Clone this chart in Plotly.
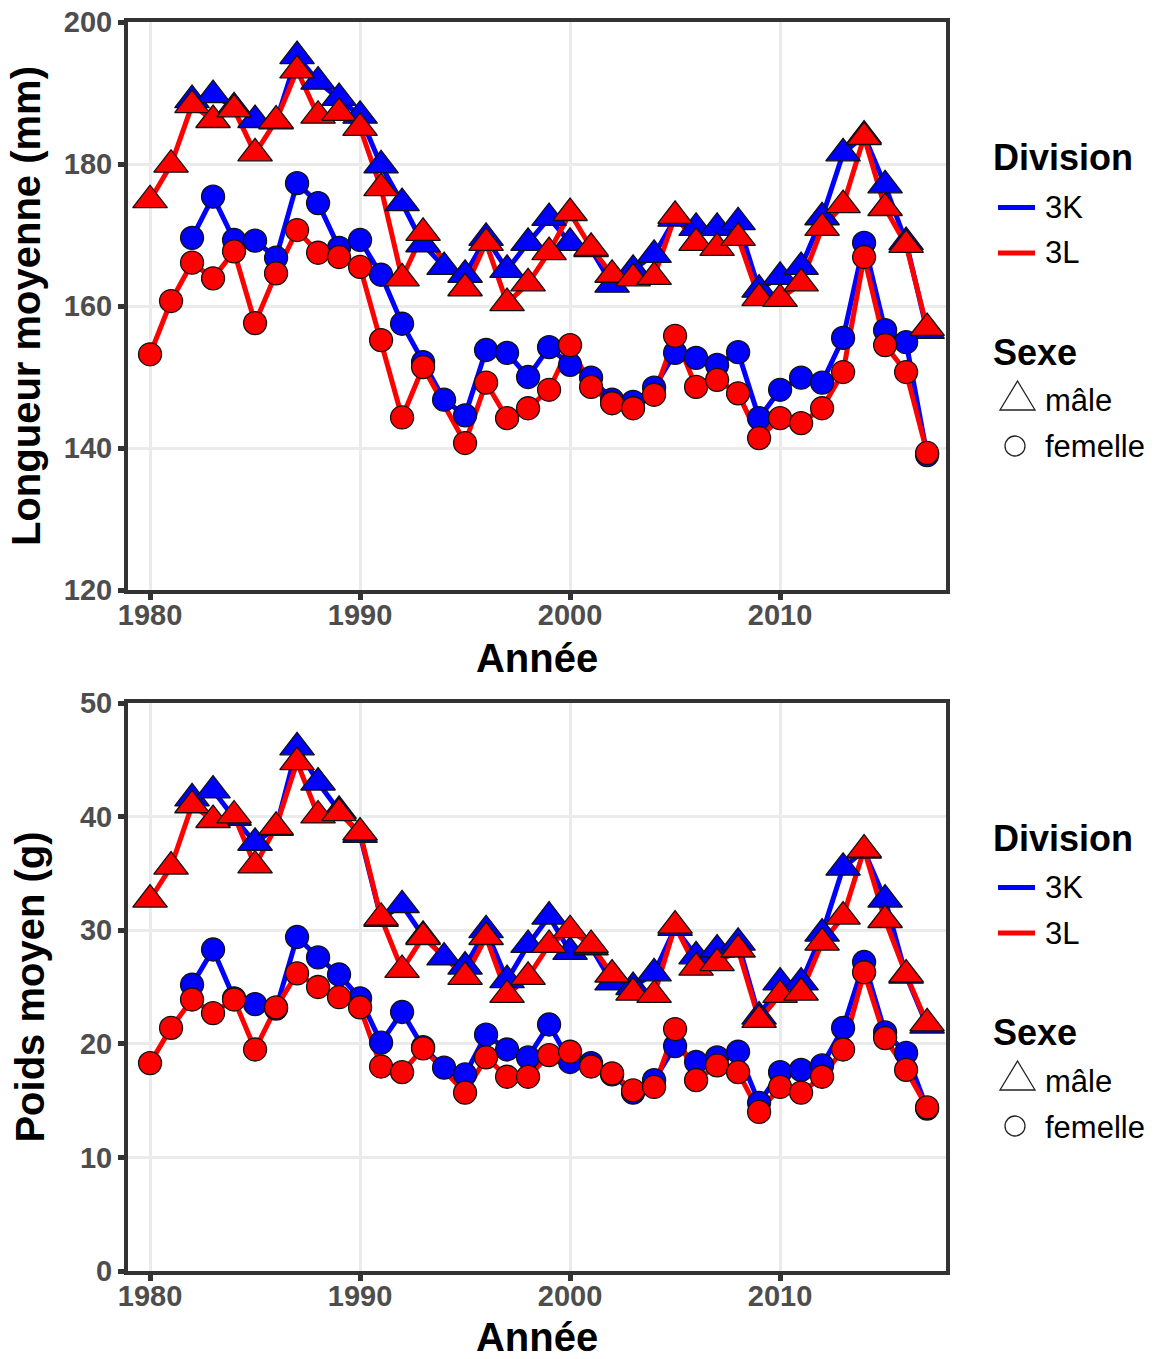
import plotly.graph_objects as go

# ---- data -------------------------------------------------------------
years = list(range(1980, 2018))

# Mean length (mm)
len_3K_male = [None, None, 189.0, 189.7, 188.0, 186.2, 186.0, 195.2, 191.6, 189.3,
               186.8, 179.8, 174.5, 168.7, 165.5, 164.4, 169.6, 165.1, 168.9, 172.4,
               168.9, 168.0, 163.0, 165.1, 167.2, 172.3, 171.0, 171.0, 171.8, 162.3,
               164.1, 165.5, 172.5, 181.5, 184.0, 177.0, 169.0, 156.5]
len_3L_male = [174.9, 179.9, 188.3, 186.2, 187.7, 181.5, 186.1, 193.2, 186.8, 187.2,
               185.1, 176.6, 163.9, 170.3, None, 162.5, 168.9, 160.4, 163.2, 167.6,
               173.1, 168.2, 164.4, 163.9, 164.1, 172.7, 168.9, 168.2, 169.6, 161.1,
               161.0, 163.2, 171.0, 174.2, 183.8, 173.8, 168.6, 156.9]
len_3K_female = [None, None, 169.6, 175.4, 169.3, 169.2, 166.8, 177.3, 174.5, 168.2,
                 169.3, 164.4, 157.5, 152.1, 146.8, 144.6, 153.8, 153.4, 150.0, 154.2,
                 151.7, 149.9, 146.8, 146.5, 148.5, 153.4, 152.7, 151.7, 153.5, 144.2,
                 148.2, 149.9, 149.2, 155.5, 168.9, 156.6, 154.9, 139.0]
len_3L_female = [153.2, 160.7, 166.1, 163.9, 167.7, 157.6, 164.6, 170.7, 167.5, 166.9,
                 165.5, 155.2, 144.3, 151.4, None, 140.7, 149.2, 144.2, 145.6, 148.2,
                 154.5, 148.6, 146.3, 145.6, 147.5, 155.8, 148.6, 149.6, 147.7, 141.4,
                 144.2, 143.5, 145.6, 150.7, 166.9, 154.5, 150.7, 139.3]

# Mean weight (g)
wt_3K_male = [None, None, 41.6, 42.3, 39.9, 37.7, 39.0, 46.1, 43.0, 40.5,
              38.4, 31.0, 32.2, 29.5, 27.6, 26.8, 30.0, 25.6, 28.7, 31.2,
              28.1, 28.5, 25.4, 25.0, 26.2, 30.2, 27.7, 28.3, 28.9, 22.4,
              25.4, 25.4, 29.7, 35.5, 37.0, 32.7, 26.0, 21.6]
wt_3L_male = [32.7, 35.6, 41.0, 39.7, 40.1, 35.7, 39.1, 44.8, 40.1, 40.3,
              38.6, 31.1, 26.5, 29.4, None, 25.9, 29.4, 24.3, 25.9, 28.7,
              30.0, 28.7, 26.1, 24.5, 24.3, 30.4, 26.7, 27.1, 28.3, 22.1,
              24.3, 24.5, 28.9, 31.2, 37.1, 30.9, 26.1, 21.8]
wt_3K_female = [None, None, 25.2, 28.3, 24.0, 23.5, 23.1, 29.4, 27.6, 26.1,
                24.0, 20.1, 22.8, 19.7, 17.9, 17.3, 20.8, 19.5, 18.8, 21.7,
                18.4, 18.3, 17.3, 15.7, 16.8, 19.8, 18.4, 18.8, 19.3, 14.8,
                17.5, 17.7, 18.1, 21.4, 27.2, 21.0, 19.2, 14.3]
wt_3L_female = [18.3, 21.4, 23.9, 22.7, 23.9, 19.5, 23.2, 26.2, 25.0, 24.1,
                23.2, 18.0, 17.5, 19.6, None, 15.7, 18.8, 17.1, 17.1, 19.0,
                19.3, 18.0, 17.4, 15.9, 16.2, 21.3, 16.8, 18.1, 17.5, 14.0,
                16.2, 15.7, 17.1, 19.5, 26.3, 20.5, 17.7, 14.4]

div_colors = {"3K": "#0000FF", "3L": "#FF0000"}
len_ticks = [120, 140, 160, 180, 200]
wt_ticks = [0, 10, 20, 30, 40, 50]
year_ticks = [1980, 1990, 2000, 2010]

# ---- figure geometry (pixels) -------------------------------------------
W, H = 1156, 1359
L, R, T, B = 128, 210, 22, 88
PW, PH = W - L - R, H - T - B


def px(x):
    return (x - L) / PW


def py(y):
    return (H - B - y) / PH


top_dom = [py(590), 1.0]
bot_dom = [0.0, py(703)]

fig = go.Figure()

panels = [
    ("x", "y", {"3K": (len_3K_male, len_3K_female), "3L": (len_3L_male, len_3L_female)}),
    ("x2", "y2", {"3K": (wt_3K_male, wt_3K_female), "3L": (wt_3L_male, wt_3L_female)}),
]

LINE_W = 5
TRI_SIZE = 30
CIRC_SIZE = 23

for xa, ya, series in panels:
    # lines first (blue under red), then points on top
    for div in ["3K", "3L"]:
        for vals in series[div]:
            fig.add_trace(go.Scatter(
                x=years, y=vals, mode="lines", connectgaps=True,
                line=dict(color=div_colors[div], width=LINE_W),
                xaxis=xa, yaxis=ya, showlegend=False, hoverinfo="skip"))
    for div in ["3K", "3L"]:
        male, female = series[div]
        fig.add_trace(go.Scatter(
            x=years, y=male, mode="markers",
            marker=dict(symbol="triangle-up", size=TRI_SIZE, color=div_colors[div],
                        line=dict(color="#111111", width=1.3)),
            xaxis=xa, yaxis=ya, showlegend=False, name=f"{div} mâle"))
        fig.add_trace(go.Scatter(
            x=years, y=female, mode="markers",
            marker=dict(symbol="circle", size=CIRC_SIZE, color=div_colors[div],
                        line=dict(color="#111111", width=1.3)),
            xaxis=xa, yaxis=ya, showlegend=False, name=f"{div} femelle"))

axis_common = dict(
    showline=True, mirror=True, linecolor="#333333", linewidth=4,
    ticks="outside", ticklen=6, tickwidth=5, tickcolor="#333333",
    showgrid=True, gridcolor="#EBEBEB", gridwidth=3, zeroline=False,
    tickfont=dict(family="Liberation Sans, Arial, sans-serif", size=29,
                  color="#4D4D4D", weight="bold"),
)
title_font = dict(family="Liberation Sans, Arial, sans-serif", size=40,
                  color="#000000", weight="bold")

fig.update_layout(
    xaxis=dict(domain=[0, 1], anchor="y", range=[1978.95, 2017.9],
               tickvals=year_ticks, ticklabelstandoff=-10,
               title=dict(text="Année", font=title_font, standoff=15),
               **axis_common),
    yaxis=dict(domain=top_dom, anchor="x", range=[120, 200], tickvals=len_ticks,
               title=dict(text="Longueur moyenne (mm)", font=title_font, standoff=12),
               **axis_common),
    xaxis2=dict(domain=[0, 1], anchor="y2", range=[1978.95, 2017.9],
                tickvals=year_ticks, ticklabelstandoff=-10,
                title=dict(text="Année", font=title_font, standoff=16),
                **axis_common),
    yaxis2=dict(domain=bot_dom, anchor="x2", range=[0, 50], tickvals=wt_ticks,
                title=dict(text="Poids moyen (g)", font=title_font, standoff=24),
                **axis_common),
    width=W, height=H,
    margin=dict(l=L, r=R, t=T, b=B, autoexpand=False),
    paper_bgcolor="white", plot_bgcolor="white",
    showlegend=False,
)

# ---- legends (Division colour / Sexe shape) for each panel ---------------
shapes = []
annotations = []
leg_font_title = dict(family="Liberation Sans, Arial, sans-serif", size=36,
                      color="#000000", weight="bold")
leg_font_item = dict(family="Liberation Sans, Arial, sans-serif", size=31, color="#000000")

for dy in [0, 680]:
    def txt(x, y, s, font):
        annotations.append(dict(x=px(x), y=py(y + dy), xref="paper", yref="paper",
                                text=s, showarrow=False, xanchor="left",
                                yanchor="middle", font=font))

    txt(991, 158, "Division", leg_font_title)
    for lbl, yy in [("3K", 207.5), ("3L", 253)]:
        shapes.append(dict(type="line", xref="paper", yref="paper",
                           x0=px(998), x1=px(1035), y0=py(yy + dy), y1=py(yy + dy),
                           line=dict(color=div_colors[lbl], width=5)))
        txt(1043, yy, lbl, leg_font_item)

    txt(991, 352, "Sexe", leg_font_title)
    shapes.append(dict(type="path", xref="paper", yref="paper",
                       xsizemode="pixel", ysizemode="pixel",
                       xanchor=px(1017.5), yanchor=py(396 + dy),
                       path="M -17.5,-14 L 17.5,-14 L 0,15 Z",
                       line=dict(color="#222222", width=1.3), fillcolor="rgba(0,0,0,0)"))
    txt(1043, 401, "mâle", leg_font_item)
    shapes.append(dict(type="circle", xref="paper", yref="paper",
                       xsizemode="pixel", ysizemode="pixel",
                       xanchor=px(1015), yanchor=py(446 + dy),
                       x0=-10, x1=10, y0=-10, y1=10,
                       line=dict(color="#222222", width=1.3), fillcolor="rgba(0,0,0,0)"))
    txt(1043, 447, "femelle", leg_font_item)

fig.update_layout(shapes=shapes, annotations=annotations)

fig.write_html("out.html")
